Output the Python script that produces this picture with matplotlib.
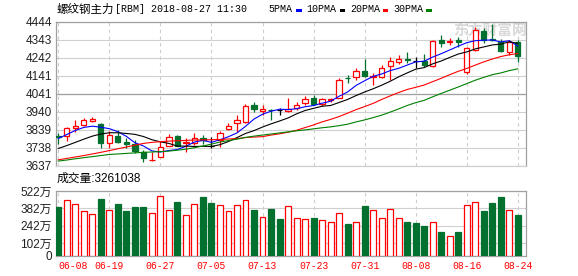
import numpy as np
import matplotlib.pyplot as plt
from matplotlib.patches import Rectangle

plt.rcParams['font.family'] = ['Liberation Sans', 'Noto Sans CJK SC']

# trading days shown in the chart
dates = ['06-08', '06-11', '06-12', '06-13', '06-14', '06-15',
         '06-19', '06-20', '06-21', '06-22', '06-25', '06-26',
         '06-27', '06-28', '06-29', '07-02', '07-03', '07-04',
         '07-05', '07-06', '07-09', '07-10', '07-11', '07-12',
         '07-13', '07-16', '07-17', '07-18', '07-19', '07-20',
         '07-23', '07-24', '07-25', '07-26', '07-27', '07-30',
         '07-31', '08-01', '08-02', '08-03', '08-06', '08-07',
         '08-08', '08-09', '08-10', '08-13', '08-14', '08-15',
         '08-16', '08-17', '08-20', '08-21', '08-22', '08-23', '08-24']

opens = [3802, 3805, 3850, 3866, 3887, 3869, 3763, 3806, 3768, 3757,
         3712, 3668, 3686, 3750, 3803, 3762, 3766, 3790, 3748, 3781,
         3845, 3879, 3880, 3976, 3946, 3951, 3947, 3946, 3962, 3990,
         4020, 3984, 4005, 4020, 4130, 4133, 4167, 4133, 4133, 4196,
         4221, 4234, 4226, 4226, 4197, 4341, 4333, 4344, 4165, 4287,
         4392, 4350, 4330, 4276, 4334]
highs = [3818, 3855, 3896, 3904, 3911, 3874, 3830, 3840, 3790, 3780,
         3724, 3716, 3774, 3815, 3812, 3790, 3818, 3810, 3796, 3832,
         3878, 3920, 3986, 3995, 3977, 3955, 3960, 4016, 3994, 4026,
         4033, 4020, 4015, 4127, 4145, 4183, 4238, 4158, 4200, 4250,
         4258, 4277, 4246, 4262, 4345, 4372, 4352, 4360, 4305, 4418,
         4410, 4430, 4348, 4342, 4342]
lows = [3760, 3778, 3828, 3858, 3882, 3734, 3738, 3763, 3738, 3711,
        3659, 3664, 3684, 3748, 3745, 3715, 3752, 3758, 3735, 3743,
        3837, 3828, 3875, 3938, 3921, 3893, 3922, 3940, 3948, 3978,
        3977, 3974, 3992, 4015, 4100, 4117, 4133, 4090, 4127, 4117,
        4210, 4212, 4183, 4192, 4192, 4305, 4313, 4302, 4150, 4280,
        4325, 4335, 4275, 4258, 4222]
closes = [3798, 3851, 3858, 3892, 3898, 3767, 3812, 3771, 3760, 3720,
          3678, 3670, 3740, 3800, 3750, 3770, 3790, 3783, 3748, 3822,
          3858, 3892, 3970, 3955, 3953, 3947, 3947, 3956, 3980, 4009,
          3984, 4010, 4012, 4121, 4127, 4168, 4140, 4140, 4183, 4224,
          4234, 4231, 4226, 4204, 4340, 4328, 4337, 4333, 4300, 4397,
          4342, 4342, 4280, 4332, 4251]

# volume in 万
volumes = [390, 447, 414, 358, 334, 457, 366, 417, 361, 393,
           393, 342, 479, 366, 433, 326, 414, 474, 425, 406,
           358, 406, 447, 369, 309, 377, 296, 398, 301, 293,
           304, 285, 269, 342, 256, 269, 401, 366, 301, 374,
           301, 272, 264, 240, 269, 191, 156, 191, 406, 431,
           361, 425, 474, 366, 326]

ma5 = [3790, 3812, 3835, 3852, 3859, 3853, 3845, 3828, 3802, 3766,
       3748, 3720, 3714, 3722, 3728, 3746, 3770, 3779, 3768, 3783,
       3800, 3821, 3858, 3899, 3926, 3943, 3954, 3952, 3957, 3968,
       3975, 3988, 3999, 4027, 4051, 4088, 4114, 4139, 4152, 4171,
       4184, 4202, 4220, 4224, 4247, 4266, 4287, 4308, 4328, 4339,
       4342, 4343, 4332, 4339, 4309]
ma10 = [3734, 3750, 3768, 3786, 3803, 3815, 3822, 3822, 3818, 3813,
        3801, 3783, 3771, 3762, 3747, 3747, 3745, 3746, 3745, 3755,
        3773, 3795, 3818, 3834, 3854, 3872, 3888, 3905, 3928, 3947,
        3959, 3971, 3975, 3992, 4009, 4031, 4051, 4069, 4089, 4111,
        4136, 4158, 4179, 4188, 4209, 4225, 4245, 4264, 4276, 4293,
        4304, 4315, 4320, 4333, 4324]
ma20 = [3670, 3678, 3686, 3694, 3703, 3712, 3722, 3732, 3742, 3752,
        3762, 3768, 3772, 3775, 3777, 3779, 3781, 3782, 3783, 3784,
        3787, 3789, 3795, 3798, 3800, 3809, 3816, 3825, 3836, 3851,
        3866, 3883, 3897, 3913, 3932, 3952, 3969, 3987, 4009, 4029,
        4048, 4065, 4077, 4090, 4109, 4128, 4148, 4167, 4183, 4202,
        4220, 4236, 4250, 4260, 4267]
ma30 = [3663, 3669, 3676, 3682, 3688, 3694, 3700, 3703, 3706, 3709,
        3712, 3714, 3716, 3719, 3724, 3730, 3738, 3748, 3758, 3770,
        3778, 3786, 3796, 3803, 3809, 3815, 3821, 3827, 3833, 3838,
        3844, 3850, 3855, 3862, 3870, 3883, 3894, 3907, 3921, 3938,
        3956, 3975, 3991, 4004, 4024, 4043, 4061, 4079, 4098, 4117,
        4133, 4148, 4158, 4171, 4181]

price_ticks = [3637, 3738, 3839, 3940, 4041, 4141, 4242, 4343, 4444]
vol_ticks = [0, 102, 242, 382, 522]
vol_labels = ['0', '102万', '242万', '382万', '522万']

RED = '#ff0000'
GREEN = '#02702f'
W, H = 578, 276


def box(l, t, r, b):
    return [l / W, 1 - b / H, (r - l) / W, (b - t) / H]


fig = plt.figure(figsize=(W / 100, H / 100), dpi=100)
ax = fig.add_axes(box(56, 22, 525.7, 165.7))
axv = fig.add_axes(box(56, 191, 525.7, 255.7))

x = np.arange(len(dates))
o = np.array(opens)
c = np.array(closes)
hi = np.array(highs)
lo = np.array(lows)
up = c > o
down = c < o
edge = np.where(up, RED, np.where(down, GREEN, 'black'))
face = np.where(up, 'white', np.where(down, GREEN, 'black'))
top = np.maximum(o, c)
bot = np.minimum(o, c)

# watermark, sits under the candles
ax.text(453 / W, 1 - 30 / H, '东方财富网', transform=fig.transFigure,
        fontsize=10.6, color='#d9d9d9', weight='bold', va='center',
        zorder=0.5, clip_on=False, family=['Noto Sans CJK SC'])

# candles
ax.vlines(x, top, hi, colors=edge, lw=0.9, zorder=3)
ax.vlines(x, lo, bot, colors=edge, lw=0.9, zorder=3)
ax.bar(x, top - bot, bottom=bot, width=0.62, color=face, edgecolor=edge,
       linewidth=0.9, zorder=4)

ax.plot(x, ma5, color='#0000ff', lw=0.8, zorder=5)
ax.plot(x, ma10, color='black', lw=0.8, zorder=5)
ax.plot(x, ma20, color=RED, lw=0.8, zorder=5)
ax.plot(x, ma30, color='#008000', lw=0.8, zorder=5)

# volume
vcol = np.where(up, RED, GREEN)
vface = np.where(up, 'white', GREEN)
axv.bar(x, volumes, width=0.7, color=vface, edgecolor=vcol, linewidth=0.9, zorder=3)

for a in (ax, axv):
    a.set_xlim(-0.27, 54.93)
    a.set_xticks(x[::6])
    a.tick_params(length=0, labelsize=8.5, labelcolor='#222222', pad=3)
    a.grid(axis='x', color='#cccccc', lw=0.8, ls=(0, (3, 3)))
    a.grid(axis='y', color='#d0d0d0', lw=0.8)
    a.set_axisbelow(True)
    for s in a.spines.values():
        s.set_color('#a0a0a0')
        s.set_linewidth(0.9)

ax.set_ylim(3637, 4444)
ax.set_yticks(price_ticks)
ax.set_xticklabels([])
ax.spines['bottom'].set_color('#d0d0d0')
ax.axhline(4041, color='#a0a0a0', lw=0.9, zorder=1)

axv.set_ylim(0, 522)
axv.set_yticks(vol_ticks, vol_labels)
axv.set_xticklabels(dates[::6], color=RED, fontsize=7,
                    family=['Liberation Mono'])
axv.tick_params(axis='x', pad=4)
axv.get_xticklabels()[0].set_ha('left')

# header texts
fig.text(57 / W, 1 - 9 / H, '螺纹钢主力', fontsize=8.3, va='center',
         family=['Noto Sans CJK SC'])
fig.text(115 / W, 1 - 9 / H, '[RBM] 2018-08-27 11:30', fontsize=7.2,
         va='center', family=['Liberation Mono'])
legend_items = [('5PMA', 268, 296, '#0000ff'), ('10PMA', 306, 339.5, 'black'),
                ('20PMA', 350, 382.5, RED), ('30PMA', 393, 426, '#008000')]
for name, tx, rx, col in legend_items:
    fig.text(tx / W, 1 - 9 / H, name, fontsize=7.2, va='center',
             family=['Liberation Mono'])
    fig.add_artist(Rectangle((rx / W, 1 - 11.7 / H), 5.5 / W, 2.7 / H,
                             transform=fig.transFigure, color=col, lw=0))

fig.text(57 / W, 1 - 179 / H, '成交量:3261038', fontsize=8.5, va='center')

fig.savefig('out.png', dpi=100)
